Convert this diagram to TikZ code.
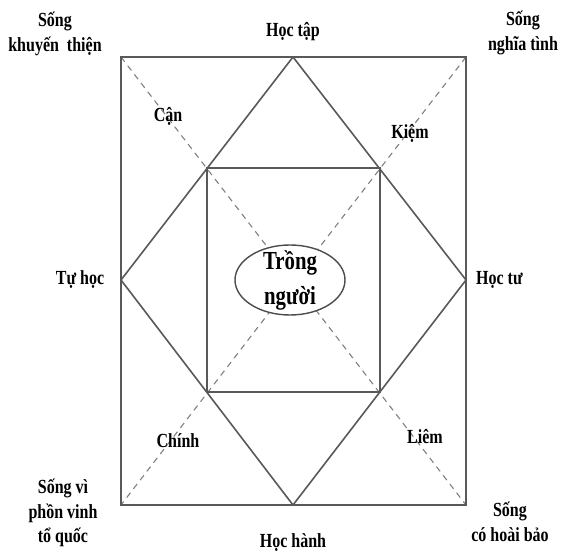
\documentclass[tikz,border=0pt]{standalone}
\usepackage{fontspec}
\setmainfont{Liberation Serif}
\newfontfamily\lblfont[FakeStretch=0.8]{Liberation Serif}
\usetikzlibrary{shapes.geometric}
\begin{document}
\begin{tikzpicture}[x=1pt,y=-1pt,
  solidline/.style={draw=black!65,line width=1.6pt},
  dashline/.style={draw=black!50,line width=1.1pt,dash pattern=on 6pt off 5pt},
  lbl/.style={font=\lblfont\bfseries\fontsize{20}{20}\selectfont,inner sep=1pt,align=center},
  mlbl/.style={font=\lblfont\bfseries\fontsize{20}{24.5}\selectfont,inner sep=1pt,align=center}]
\useasboundingbox[fill=white] (0,0) rectangle (566,553);
% outer rectangle corners
\coordinate (tl) at (121,57);
\coordinate (tr) at (466,57);
\coordinate (br) at (466,505);
\coordinate (bl) at (121,505);
% diamond
\coordinate (dt) at (293,57);
\coordinate (dr) at (466,280);
\coordinate (db) at (293,505);
\coordinate (dl) at (121,280);
% inner square
\coordinate (itl) at (207,168);
\coordinate (itr) at (380,168);
\coordinate (ibr) at (380,392);
\coordinate (ibl) at (207,392);
% dashed diagonals
\draw[dashline] (tl) -- (br);
\draw[dashline] (tr) -- (bl);
\draw[solidline] (tl) -- (tr) -- (br) -- (bl) -- cycle;
\draw[solidline] (dt) -- (dr) -- (db) -- (dl) -- cycle;
\draw[solidline] (itl) -- (itr) -- (ibr) -- (ibl) -- cycle;
\node[ellipse,draw=black!70,line width=1.4pt,fill=white,minimum width=110pt,minimum height=70pt,inner sep=0pt] (center) at (290,280) {};
\node[font=\lblfont\bfseries\fontsize{26}{35}\selectfont,align=center] (tn) at (290,280) {Trồng\\người};
% labels
\node[mlbl] (skt) at (55,34) {Sống\\khuyến\ \ thiện};
\node[mlbl] (snt) at (523,33) {Sống\\nghĩa tình};
\node[lbl] (htap) at (293,32) {Học tập};
\node[lbl] (can) at (168,116) {Cận};
\node[lbl] (kiem) at (410,133) {Kiệm};
\node[lbl] (thoc) at (80,280) {Tự học};
\node[lbl,anchor=west] (htu) at (475,280) {Học tư};
\node[lbl] (chinh) at (178,441) {Chính};
\node[lbl] (liem) at (425,437) {Liêm};
\node[mlbl] (svpv) at (63,513) {Sống vì\\phồn vinh\\tổ quốc};
\node[lbl] (hhanh) at (293,543) {Học hành};
\node[mlbl] (shb) at (510,522) {Sống\\có hoài bảo};
\end{tikzpicture}
\end{document}
